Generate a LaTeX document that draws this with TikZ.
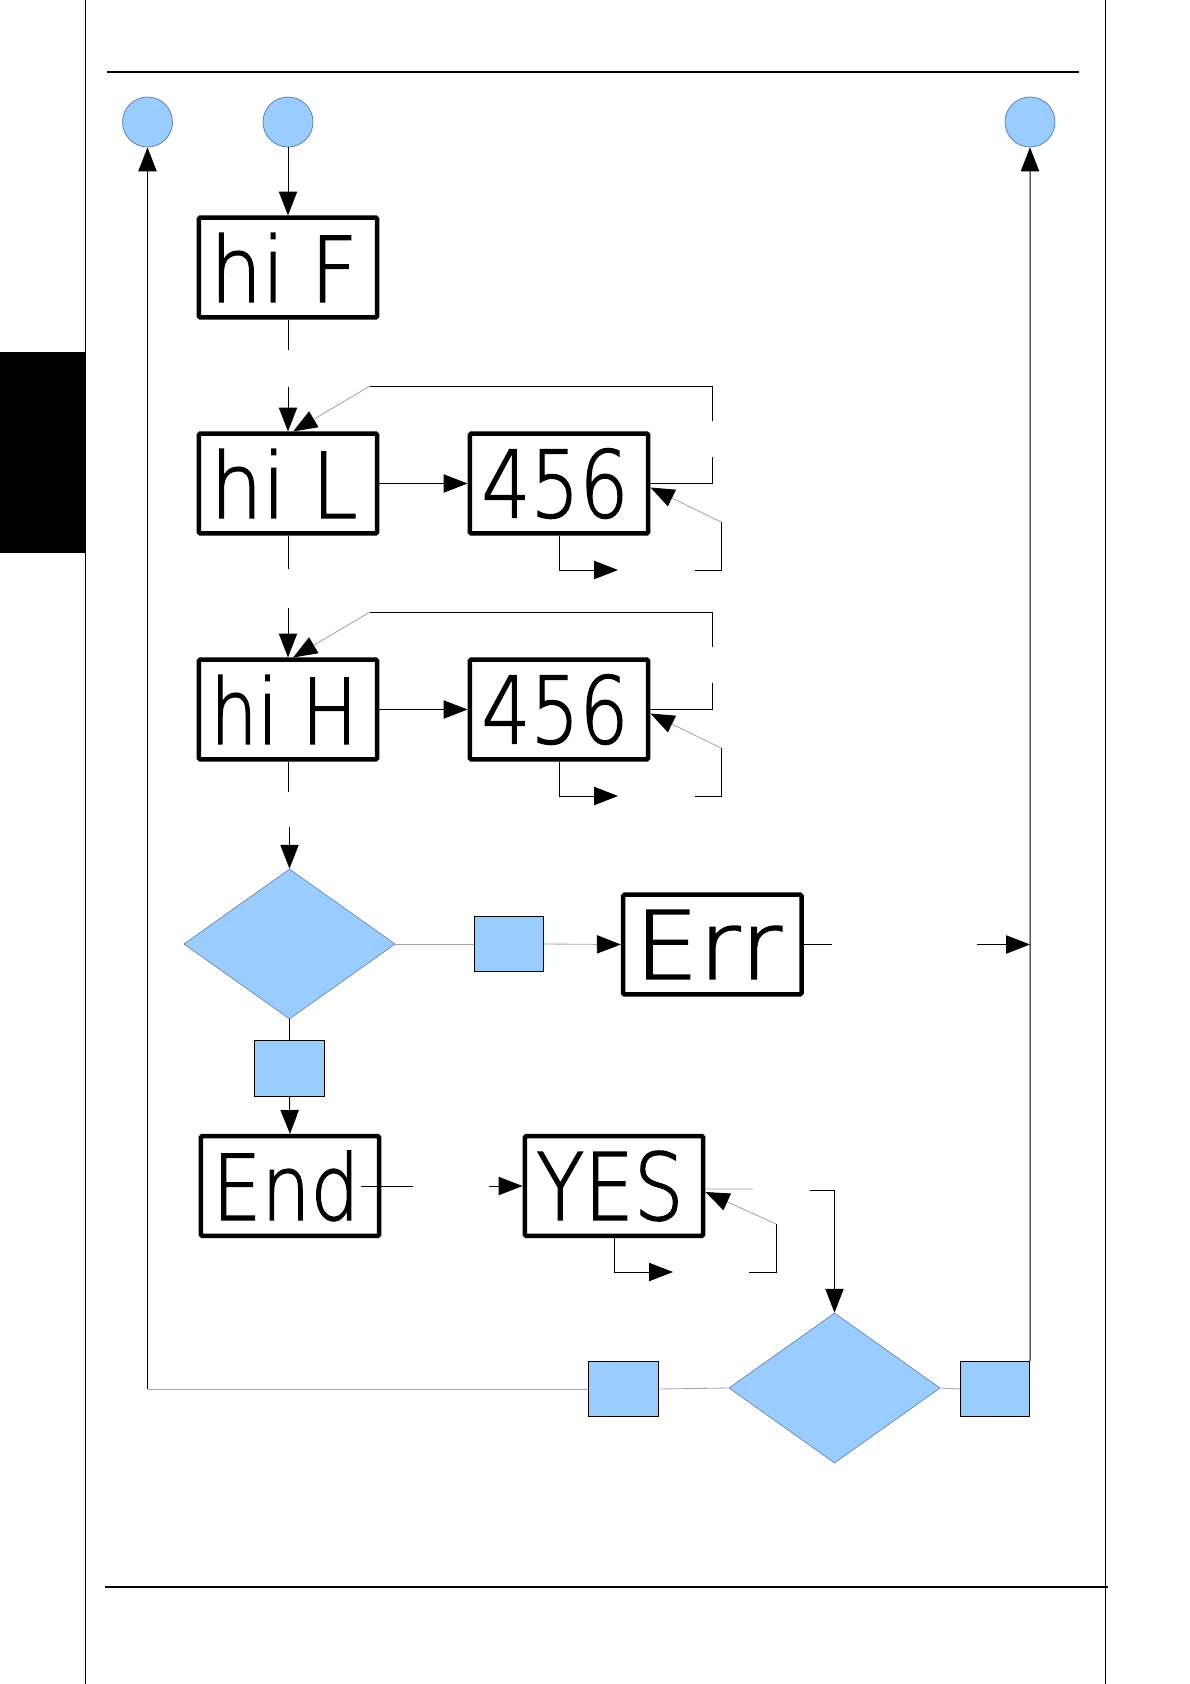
\documentclass[tikz,border=0pt]{standalone}
\usepackage{fontspec}
\usepackage{graphicx}
\usetikzlibrary{arrows.meta,shapes.geometric}

\newfontfamily\segfont{DejaVuSans-ExtraLight.ttf}[FakeBold=1.6]
\definecolor{padblue}{RGB}{153,204,255}
\definecolor{rimblue}{RGB}{90,120,160}
\newcommand{\lcd}[1]{\resizebox{3.68cm}{1.72cm}{\segfont\bfseries #1}\kern0.2cm}

\tikzset{
  wire/.style={draw=black, line width=0.7pt},
  faint/.style={draw=gray!70, line width=0.6pt},
  arr/.style={-{Triangle[length=17pt,width=13pt,color=black]}},
  lcdbox/.style={draw, line width=3.2pt, rounded corners=1pt, minimum width=4.46cm, minimum height=2.49cm, inner sep=0pt},
  portdot/.style={circle, fill=padblue, draw=rimblue, line width=0.5pt, minimum size=1.25cm, inner sep=0pt},
  decide/.style={diamond, fill=padblue, draw=rimblue, line width=0.4pt, minimum width=5.28cm, minimum height=3.75cm, inner sep=0pt},
  flagbox/.style={rectangle, fill=padblue, draw=black, line width=0.7pt, minimum width=1.73cm, minimum height=1.38cm, inner sep=0pt}
}

\begin{document}
\begin{tikzpicture}[x=0.025cm, y=-0.025cm]
  \useasboundingbox (0,0) rectangle (1190,1684);

  % Page frame
  \fill[black] (0,352) rectangle (85,553);
  \draw[line width=0.6pt] (85,0) -- (85,1684);
  \draw[line width=0.6pt] (1105,0) -- (1105,1684);
  \draw[line width=1.3pt] (107,72) -- (1079,72);
  \draw[line width=1.3pt] (105,1587) -- (1108,1587);

  % Ports (blue dots)
  \node[portdot] (back) at (147.5,122) {};
  \node[portdot] (start) at (288,122) {};
  \node[portdot] (exit) at (1030,122) {};

  % Displays
  \node[lcdbox] (hiF) at (288,267.5) {\lcd{hi F}};
  \node[lcdbox] (hiL) at (288,483.5) {\lcd{hi L}};
  \node[lcdbox] (valL) at (559,483.5) {\lcd{456}};
  \node[lcdbox] (hiH) at (288,709.5) {\lcd{hi H}};
  \node[lcdbox] (valH) at (559,709.5) {\lcd{456}};
  \node[lcdbox] (err) at (712.3,944.5) {\lcd{Err}};
  \node[lcdbox] (fin) at (290,1186) {\lcd{End}};
  \node[lcdbox] (yes) at (614,1186) {\lcd{YES}};

  % Decisions and keys
  \node[decide] (chk) at (289.5,944) {};
  \node[decide] (ask) at (834.5,1388) {};
  \node[flagbox] (chkR) at (509,944) {};
  \node[flagbox] (chkB) at (289.5,1068.5) {};
  \node[flagbox] (askL) at (623.5,1389) {};
  \node[flagbox] (askR) at (995,1389) {};

  % Bends and loose ends
  \coordinate (fA) at (288,350);
  \coordinate (fB) at (288,387);
  \coordinate (lA) at (288,569);
  \coordinate (lB) at (288,608);
  \coordinate (hA) at (288,792);
  \coordinate (hB) at (289.5,827);
  \coordinate (L1) at (712,483.5);
  \coordinate (L2) at (712,457);
  \coordinate (L3) at (712,421);
  \coordinate (L4) at (712,386);
  \coordinate (L5) at (370,386);
  \coordinate (L6) at (721,570);
  \coordinate (L7) at (721,522);
  \coordinate (L8) at (695,570);
  \coordinate (L9) at (559,570);
  \coordinate (L10) at (618,570);
  \coordinate (H1) at (712,709.5);
  \coordinate (H2) at (712,683);
  \coordinate (H3) at (712,647);
  \coordinate (H4) at (712,612);
  \coordinate (H5) at (370,612);
  \coordinate (H6) at (721,796);
  \coordinate (H7) at (721,748);
  \coordinate (H8) at (695,796);
  \coordinate (H9) at (559,796);
  \coordinate (H10) at (618,796);
  \coordinate (eA) at (832,944.5);
  \coordinate (eB) at (977,944.5);
  \coordinate (eC) at (1030,944.5);
  \coordinate (nA) at ([xshift=-0.5cm]fin.east);
  \coordinate (nB) at (413,1186);
  \coordinate (nC) at (489,1186);
  \coordinate (y1) at (753,1189);
  \coordinate (y2) at (776,1224);
  \coordinate (y3) at (776,1272);
  \coordinate (y4) at (749,1272);
  \coordinate (y5) at (614,1272);
  \coordinate (y6) at (673,1272);
  \coordinate (y7) at (810,1190);
  \coordinate (y8) at (834.5,1190);
  \coordinate (bL) at (147.5,1389);

  % Main line
  \draw[wire, arr] (start.south) -- (hiF.north);
  \draw[wire] (hiF.south) -- (fA);
  \draw[wire, arr] (fB) -- (hiL.north);
  \draw[wire, arr] (hiL.east) -- (valL.west);
  \draw[wire] (hiL.south) -- (lA);
  \draw[wire, arr] (lB) -- (hiH.north);
  \draw[wire, arr] (hiH.east) -- (valH.west);
  \draw[wire] (hiH.south) -- (hA);
  \draw[wire, arr] (hB) -- (chk.north);

  % Loops round the values
  \draw[wire] (valL.east) -- (L1) -- (L2);
  \draw[wire] (L3) -- (L4) -- (L5);
  \draw[faint, arr] (L5) -- ([xshift=0.13cm]hiL.north);
  \draw[wire] (L8) -- (L6) -- (L7);
  \draw[faint, arr] (L7) -- ([yshift=-0.1cm]valL.east);
  \draw[wire, arr] (valL.south) -- (L9) -- (L10);
  \draw[wire] (valH.east) -- (H1) -- (H2);
  \draw[wire] (H3) -- (H4) -- (H5);
  \draw[faint, arr] (H5) -- ([xshift=0.13cm]hiH.north);
  \draw[wire] (H8) -- (H6) -- (H7);
  \draw[faint, arr] (H7) -- ([yshift=-0.1cm]valH.east);
  \draw[wire, arr] (valH.south) -- (H9) -- (H10);

  % Check branch
  \draw[faint] (chk.east) -- (chkR.west);
  \draw[faint, arr] (chkR.east) -- (err.west);
  \draw[wire] (err.east) -- (eA);
  \draw[wire, arr] (eB) -- (eC);
  \draw[wire] (chk.south) -- (chkB.north);
  \draw[wire, arr] (chkB.south) -- (fin.north);

  % End and YES
  \draw[wire] (nA) -- (nB);
  \draw[wire, arr] (nC) -- (yes.west);
  \draw[faint] ([yshift=-0.075cm]yes.east) -- (y1);
  \draw[wire] (y4) -- (y3) -- (y2);
  \draw[faint, arr] (y2) -- ([yshift=-0.15cm]yes.east);
  \draw[wire, arr] (yes.south) -- (y5) -- (y6);
  \draw[wire, arr] (y7) -- (y8) -- (ask.north);

  % Way out
  \draw[faint] (ask.west) -- (askL.east);
  \draw[faint] (askL.west) -- (bL);
  \draw[wire, arr] (bL) -- (back.south);
  \draw[faint] (ask.east) -- (askR.west);
  \draw[wire, arr] (askR.north east) -- (exit.south);
\end{tikzpicture}
\end{document}
